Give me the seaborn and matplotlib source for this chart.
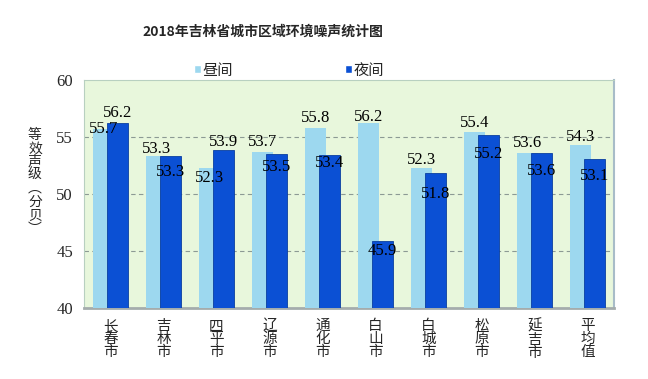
import pandas as pd
import matplotlib
matplotlib.use("Agg")
import matplotlib.pyplot as plt
from matplotlib.patches import Patch
import seaborn as sns

# ---------------- data ----------------
cities = ["长春市", "吉林市", "四平市", "辽源市", "通化市", "白山市", "白城市", "松原市", "延吉市", "平均值"]
day_vals = [55.7, 53.3, 52.3, 53.7, 55.8, 56.2, 52.3, 55.4, 53.6, 54.3]
night_vals = [56.2, 53.3, 53.9, 53.5, 53.4, 45.9, 51.8, 55.2, 53.6, 53.1]
series = ["昼间", "夜间"]
y_ticks = [40, 45, 50, 55, 60]

# label offsets from bar top, pixels (positive = above)
day_off = [0, 7, -10, 10, 10, 6, 8, 9, 10, 7.5]
night_off = [10, -16, 7.5, -13, -8, -10, -21, -19, -18, -17]

df = pd.DataFrame({
    "city": cities * 2,
    "value": day_vals + night_vals,
    "period": [series[0]] * len(cities) + [series[1]] * len(cities),
})

sns.set_style("white")
plt.rcParams["font.family"] = ["Noto Sans CJK SC", "DejaVu Sans"]

day_color = "#9DD8EF"
night_color = "#0B50D4"

fig = plt.figure(figsize=(6.48, 3.79), dpi=100)
ax = fig.add_axes([84 / 648, 1 - 308 / 379, (614 - 84) / 648, (308 - 80) / 379])
ax.set_facecolor("#E8F7DC")

sns.barplot(data=df, x="city", y="value", hue="period", hue_order=series,
            palette=[day_color, night_color], width=0.528, gap=-0.5,
            saturation=1, legend=False, ax=ax, zorder=3)

for p in ax.containers[0]:
    p.set_linewidth(0)
# dark edge on night bars
for p in ax.containers[1]:
    p.set_edgecolor("#0A3FA0")
    p.set_linewidth(0.6)

ax.set_ylim(40, 60)
ax.set_xlim(-0.5, len(cities) - 0.5)
ax.set_yticks(y_ticks)
ax.set_yticklabels([str(t) for t in y_ticks], family="Liberation Serif", fontsize=12)
ax.set_xticks(range(len(cities)))
ax.set_xticklabels(["\n".join(c) for c in cities], fontsize=10.5, linespacing=0.92,
                   va="top", fontweight="medium")
ax.tick_params(axis="both", length=0)
ax.tick_params(axis="y", pad=8)
ax.tick_params(axis="x", pad=8)
ax.set_xlabel("")
ax.set_ylabel("")

for y in [45, 50, 55]:
    ax.axhline(y, color="#8C9A94", linestyle=(0, (4, 3)), linewidth=0.8, zorder=1)

for side in ["left", "top"]:
    ax.spines[side].set_color("#B8D0C0")
    ax.spines[side].set_linewidth(0.8)
ax.spines["right"].set_color("#A8BCC8")
ax.spines["right"].set_linewidth(1.5)
ax.spines["bottom"].set_color("#A4ACAC")
ax.spines["bottom"].set_linewidth(2)

# value labels
for cont, vals, offs in [(ax.containers[0], day_vals, day_off),
                         (ax.containers[1], night_vals, night_off)]:
    for p, v, o in zip(cont, vals, offs):
        ax.annotate(f"{v:.1f}", (p.get_x() + p.get_width() / 2, v),
                    xytext=(0, o), textcoords="offset pixels",
                    ha="center", va="center", fontsize=12,
                    family="Liberation Serif", color="black", zorder=5)

# y label, stacked characters
fig.text(35 / 648, 1 - 182 / 379, "\n".join("等效声级︵分贝︶"),
         ha="center", va="center", fontsize=10, linespacing=0.95)

fig.text(263 / 648, 1 - 32 / 379, "2018年吉林省城市区域环境噪声统计图",
         ha="center", va="center", fontsize=10, fontweight="bold")

handles = [Patch(facecolor=day_color, label=series[0]),
           Patch(facecolor=night_color, label=series[1])]
fig.legend(handles=handles, loc="center", bbox_to_anchor=(289 / 648, 1 - 70 / 379),
           ncol=2, frameon=False, fontsize=11, handlelength=0.5, handleheight=0.5,
           handletextpad=0.1, columnspacing=7.3)

fig.savefig("out.png", dpi=100)
